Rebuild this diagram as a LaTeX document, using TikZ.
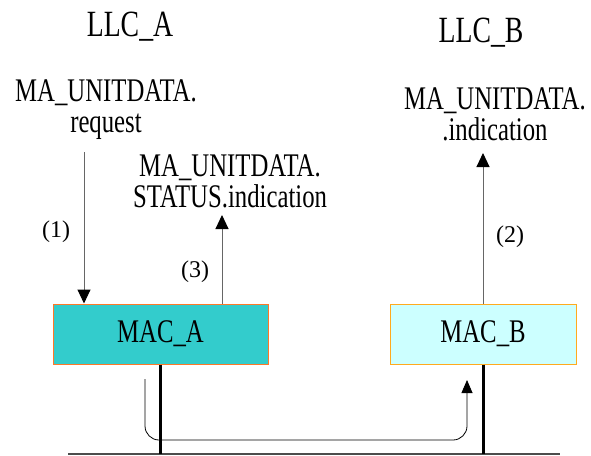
\documentclass[tikz,border=0pt]{standalone}
\usepackage{fontspec}
\setmainfont[FakeStretch=0.75]{Liberation Serif}
\newfontfamily\numfont{Liberation Serif}
\usetikzlibrary{arrows.meta}

\definecolor{macAfill}{RGB}{51,204,204}
\definecolor{macAline}{RGB}{255,120,40}
\definecolor{macBfill}{RGB}{204,255,255}
\definecolor{macBline}{RGB}{255,170,30}

\begin{document}
\begin{tikzpicture}[x=1pt, y=-1pt,
        Mac/.style={rectangle, line width=1pt, minimum height=60pt, inner sep=0pt, font=\fontsize{33}{36}\selectfont},
        Layer/.style={anchor=base, inner sep=0pt, font=\fontsize{37}{40}\selectfont},
        Prim/.style={anchor=north, align=center, inner sep=0pt, font=\fontsize{33}{31}\selectfont},
        Num/.style={inner sep=0pt, font=\numfont\fontsize{24}{26}\selectfont},
        Flow/.style={draw=black!60, line width=1pt, -{Triangle[length=14pt, width=13pt, color=black]}},
        Hop/.style={draw=black, line width=0.8pt, rounded corners=14pt, -{Triangle[length=13pt, width=11pt]}},
        Wire/.style={line width=3pt},
        Bus/.style={draw=black!70, line width=1.5pt}
    ]
    \useasboundingbox (0,0) rectangle (591,455);

    % Draw the two LLC layers
    \node (llcA) [Layer] at (130,36) {LLC\_A};
    \node (llcB) [Layer] at (481,42) {LLC\_B};

    % Draw the service primitives
    \node (reqA) [Prim] at (106,80) {MA\_UNITDATA.\\request};
    \node (statA) [Prim] at (230,155) {MA\_UNITDATA.\\STATUS.indication};
    \node (indB) [Prim] at (495,88) {MA\_UNITDATA.\\.indication};

    % Draw the MAC entities
    \node (macA) [Mac, draw=macAline, fill=macAfill, minimum width=215pt] at (160.5,334) {MAC\_A};
    \node (macB) [Mac, draw=macBline, fill=macBfill, minimum width=186pt] at (483,334) {MAC\_B};

    % Free ends of the connectors
    \coordinate (reqEnd) at (84,152);
    \coordinate (statEnd) at (222,215);
    \coordinate (indEnd) at (483,153);
    \coordinate (busL) at (68,454);
    \coordinate (busR) at (560,454);
    \coordinate (txStart) at (145,379);
    \coordinate (txLow) at (145,440);
    \coordinate (rxEnd) at (467,380);

    % Draw the primitive flows
    \draw[Flow] (reqEnd) -- (reqEnd |- macA.north);
    \draw[Flow] (statEnd |- macA.north) -- (statEnd);
    \draw[Flow] (macB.north) -- (indEnd);

    % Step numbers
    \node (n1) [Num] at (56,232) {(1)};
    \node (n2) [Num] at (510,237) {(2)};
    \node (n3) [Num] at (195,272) {(3)};

    % Draw the medium
    \draw[Bus] (busL) -- (busR);
    \draw[Wire] (macA.south) -- (macA.south |- busL);
    \draw[Wire] (macB.south) -- (macB.south |- busL);

    % Frame travelling from MAC_A to MAC_B
    \draw[Hop] (txStart) -- (txLow) -- (txLow -| rxEnd) -- (rxEnd);

\end{tikzpicture}
\end{document}
